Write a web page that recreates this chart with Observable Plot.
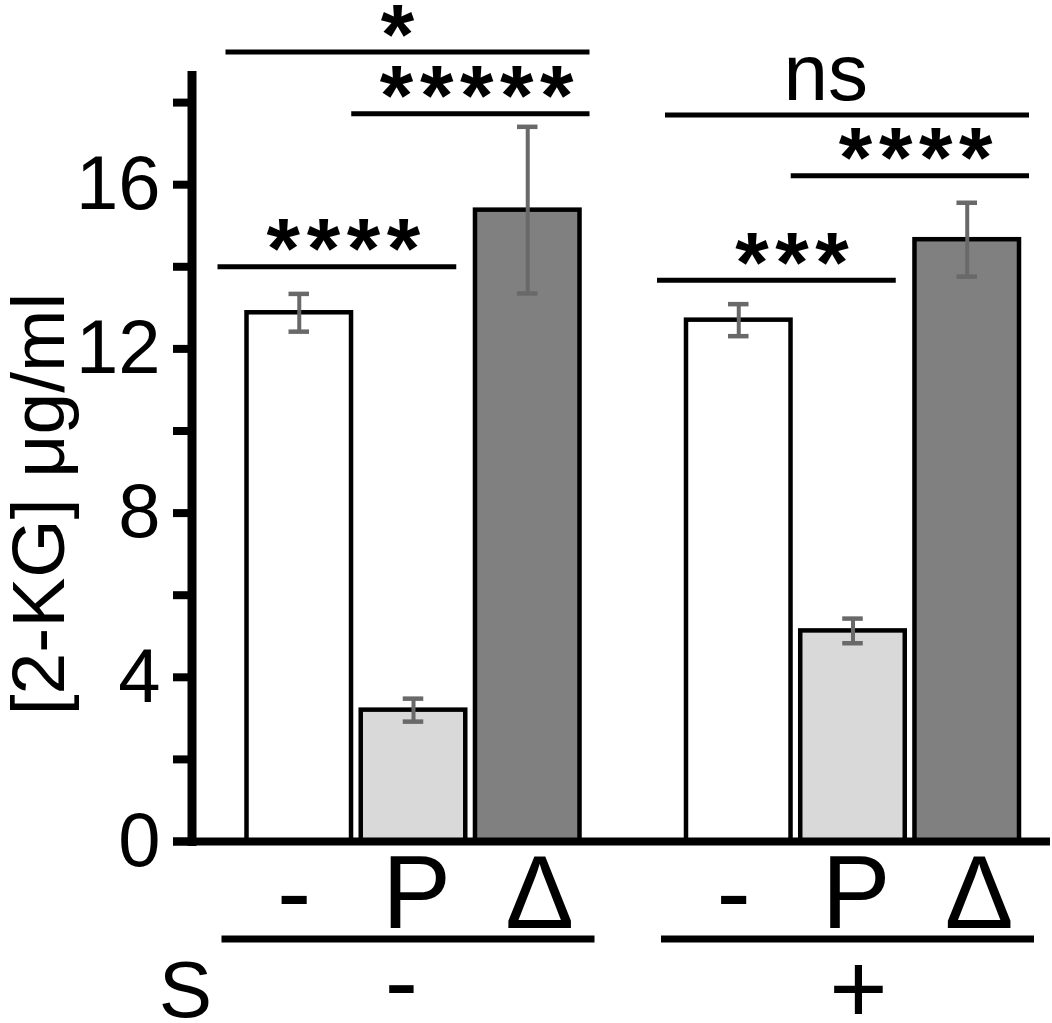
<!DOCTYPE html>
<html>
<head>
<meta charset="utf-8">
<script src="https://cdn.jsdelivr.net/npm/d3@7"></script>
<script src="https://cdn.jsdelivr.net/npm/@observablehq/plot@0.6"></script>
<style>
  html, body { margin: 0; padding: 0; background: #fff; overflow: hidden; }
</style>
</head>
<body>
<div id="chart"></div>
<script>
// ---------- data ----------
const groups = ["-", "+"];                 // S condition
const treatments = ["-", "P", "Δ"];
const meansSminus = [12.88, 3.20, 15.38];
const errSminus   = [0.46, 0.28, 2.03];
const meansSplus  = [12.70, 5.13, 14.66];
const errSplus    = [0.39, 0.30, 0.90];
const yTicks  = [0, 2, 4, 6, 8, 10, 12, 14, 16, 18];
const yLabels = [0, 4, 8, 12, 16];
const yLabel = "[2-KG] μg/ml";
const rowLabel = "S";

// significance brackets
const bracketGroup = ["-", "-", "-", "+", "+", "+"];
const bracketFrom  = ["-", "P", "-", "-", "P", "-"];
const bracketTo    = ["P", "Δ", "Δ", "P", "Δ", "Δ"];
const bracketLevel = [14.0, 17.73, 19.23, 13.67, 16.22, 17.70];
const bracketLabel = ["****", "*****", "*", "***", "****", "ns"];

// ---------- styles ----------
const fills = ["#ffffff", "#d9d9d9", "#808080"];
const errColor = "#696969";
const font = "'Liberation Sans', Arial, Helvetica, sans-serif";
const bracketInsets = {"-P": [-29, 9], "PΔ": [-9.5, -10], "-Δ": [-21, -10]};
const bracketTextDx = [47.5, 66.5, 101.5, 56.5, 66, 87];
const tickLabelDx = {"-": -5, "P": 3, "Δ": 12};
const starSize = 86, starSpacing = 6.6;

const means = [meansSminus, meansSplus];
const errs = [errSminus, errSplus];
const rows = [];
groups.forEach((g, gi) => treatments.forEach((t, ti) =>
  rows.push({S: g, T: t, v: means[gi][ti], e: errs[gi][ti]})));

const marks = [
  Plot.barY(rows, {fx: "S", x: "T", y: "v", fill: "T", stroke: "black", strokeWidth: 4.5}),
  Plot.ruleX(rows, {fx: "S", x: "T", y1: d => d.v - d.e, y2: d => d.v + d.e, stroke: errColor, strokeWidth: 4}),
  Plot.tickY(rows, {fx: "S", x: "T", y: d => d.v + d.e, stroke: errColor, strokeWidth: 4.5, insetLeft: 42, insetRight: 42}),
  Plot.tickY(rows, {fx: "S", x: "T", y: d => d.v - d.e, stroke: errColor, strokeWidth: 4.5, insetLeft: 42, insetRight: 42}),
  // baseline (x axis line), continuous across the two facets
  Plot.ruleY([groups[0]], {fx: d => d, y: () => 0, stroke: "black", strokeWidth: 8, insetLeft: -73.5, insetRight: -106.5}),
  Plot.ruleY([groups[1]], {fx: d => d, y: () => 0, stroke: "black", strokeWidth: 8, insetLeft: 0, insetRight: -31}),
  // y axis line
  Plot.frame({anchor: "left", facet: "super", stroke: "black", strokeWidth: 9, dx: -55}),
  Plot.axisY({ticks: yTicks, tickFormat: d => yLabels.includes(d) ? String(d) : "",
    tickSize: 18.5, tickPadding: 13, dx: -55, fontSize: 76, strokeWidth: 8, color: "black", label: null}),
  Plot.text([yLabel], {fx: () => groups[0], frameAnchor: "left", rotate: -90, textAnchor: "middle",
    lineAnchor: "bottom", fontSize: 75, dx: -183.5, dy: 45.5, text: d => d, fill: "black"}),
  // group underlines
  Plot.ruleY(groups, {fx: d => d, y: () => 0, dy: 97.5, insetLeft: -25, insetRight: -15, stroke: "black", strokeWidth: 7}),
  // S row
  Plot.text([rowLabel], {fx: () => groups[0], frameAnchor: "bottom-left", text: d => d, fontSize: 80,
    textAnchor: "middle", lineAnchor: "bottom", dx: -61.5, dy: 175, fill: "black"}),
  Plot.text([groups[0]], {fx: d => d, frameAnchor: "bottom", text: d => d, fontSize: 100,
    lineAnchor: "bottom", dx: -12, dy: 174, fill: "black"}),
  Plot.text([groups[1]], {fx: d => d, frameAnchor: "bottom", text: d => d, fontSize: 100,
    lineAnchor: "bottom", dx: 5.5, dy: 181, fill: "black"})
];

treatments.forEach(t => {
  marks.push(Plot.axisX({ticks: [t], tickSize: 0, tickPadding: 13, fontSize: 103, dx: tickLabelDx[t],
    color: "black", label: null}));
});

bracketLabel.forEach((lab, i) => {
  const [il, ir] = bracketInsets[bracketFrom[i] + bracketTo[i]];
  marks.push(Plot.ruleY([i], {fx: d => bracketGroup[d], x1: d => bracketFrom[d], x2: d => bracketTo[d],
    y: d => bracketLevel[d], stroke: "black", strokeWidth: 5, insetLeft: il, insetRight: ir}));
  const stars = lab.startsWith("*");
  marks.push(Plot.text([i], {fx: d => bracketGroup[d], x: d => bracketFrom[d], y: d => bracketLevel[d],
    text: d => bracketLabel[d], dx: bracketTextDx[i], dy: stars ? 11.5 : -14.5, lineAnchor: "bottom",
    fontSize: stars ? starSize : 80, fontWeight: stars ? "bold" : "normal", fill: "black"}));
});

const chart = Plot.plot({
  width: 1052,
  height: 1023,
  marginLeft: 246.5,
  marginRight: 33,
  marginTop: 75,
  marginBottom: 182,
  style: {fontFamily: font, background: "white", color: "black", overflow: "visible"},
  fx: {domain: groups, paddingInner: 0.2423, paddingOuter: 0, round: false, axis: null, label: null},
  x: {domain: treatments, paddingInner: 0.085, paddingOuter: 0, round: false},
  y: {domain: [0, 18.66]},
  color: {domain: treatments, range: fills},
  marks
});
chart.querySelectorAll("text").forEach(t => {
  if (/^\*+$/.test(t.textContent.trim())) {
    t.setAttribute("letter-spacing", starSpacing);
    t.style.letterSpacing = starSpacing + "px";
  }
});
document.getElementById("chart").appendChild(chart);
</script>
</body>
</html>
